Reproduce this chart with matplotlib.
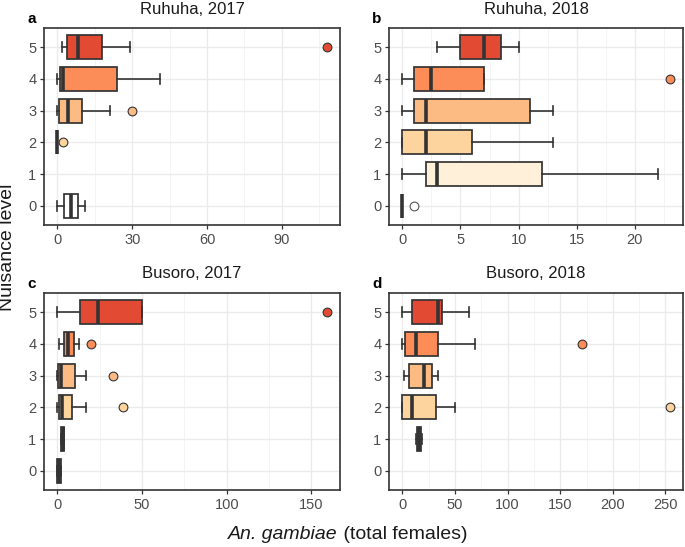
import matplotlib
matplotlib.use("Agg")
import matplotlib.pyplot as plt

plt.rcParams['font.family'] = ['Liberation Sans', 'DejaVu Sans']

# ---------------- data ----------------
levels = [0, 1, 2, 3, 4, 5]
level_colors = ["#FFFFFF", "#FEF0D9", "#FDD49E", "#FDBB84", "#FC8D59", "#E34A33"]

panel_letters = ["a", "b", "c", "d"]
panel_titles = ["Ruhuha, 2017", "Ruhuha, 2018", "Busoro, 2017", "Busoro, 2018"]

# per level: [whisker low, q1, median, q3, whisker high]; None = no data
ruhuha2017 = [[0, 2.7, 5.6, 8.4, 11], None, [0, 0, 0, 0, 0],
              [0, 0.7, 4.3, 9.9, 21], [0, 0.9, 2.3, 24, 41], [2, 4, 8.4, 17.8, 29]]
ruhuha2017_out = [[], [], [2.3], [30], [], [108]]

ruhuha2018 = [[0, 0, 0, 0, 0], [0, 2, 3, 12, 22], [0, 0, 2, 6, 13],
              [0, 1, 2, 11, 13], [0, 1, 2.5, 7, 7], [3, 5, 7, 8.5, 10]]
ruhuha2018_out = [[1], [], [], [], [23], []]

busoro2017 = [[0, 0, 1, 2, 2], [2, 2, 3, 4, 4], [0, 1, 2.5, 8.3, 17],
              [0, 0.5, 2, 10.6, 17], [1, 4, 6.3, 9.5, 12.6], [0, 13.6, 23.7, 50, 50]]
busoro2017_out = [[], [], [39], [33], [20], [159]]

busoro2018 = [None, [13, 14, 16, 18, 19], [0, 0, 9, 32, 50],
              [1.3, 6.7, 20.8, 28, 33.8], [0, 2.2, 12.8, 34, 68.6], [0, 9.6, 34, 37.7, 63]]
busoro2018_out = [[], [], [254], [], [171], []]

panel_stats = [ruhuha2017, ruhuha2018, busoro2017, busoro2018]
panel_out = [ruhuha2017_out, ruhuha2018_out, busoro2017_out, busoro2018_out]
panel_xticks = [[0, 30, 60, 90], [0, 5, 10, 15, 20],
                [0, 50, 100, 150], [0, 50, 100, 150, 200, 250]]
panel_xmax = [108, 23, 159, 254]

x_label_italic = "An. gambiae"
x_label_rest = " (total females)"
y_label = "Nuisance level"

# ---------------- figure ----------------
W, H = 685, 547
fig = plt.figure(figsize=(W / 100, H / 100), dpi=100)

# axes boxes in pixels: left, top, right, bottom
boxes = [(44, 28, 340, 225), (389, 28, 683, 225),
         (44, 293, 340, 490), (389, 293, 683, 490)]

dark = "#333333"
for i, (l, t, r, b) in enumerate(boxes):
    ax = fig.add_axes([l / W, (H - b) / H, (r - l) / W, (b - t) / H])
    stats = []
    pos = []
    cols = []
    for lev, s in zip(levels, panel_stats[i]):
        if s is None:
            continue
        stats.append(dict(whislo=s[0], q1=s[1], med=s[2], q3=s[3], whishi=s[4],
                          fliers=[]))
        pos.append(lev)
        cols.append(level_colors[lev])
    bp = ax.bxp(stats, positions=pos, widths=0.76, capwidths=0.3,
                orientation='horizontal', patch_artist=True, showfliers=False,
                boxprops=dict(edgecolor=dark, linewidth=1.25),
                whiskerprops=dict(color=dark, linewidth=1.2),
                capprops=dict(color=dark, linewidth=1.2),
                medianprops=dict(color=dark, linewidth=2.6, solid_capstyle='butt'),
                zorder=3)
    for patch, c in zip(bp['boxes'], cols):
        patch.set_facecolor(c)
    # outliers
    for lev, outs in zip(levels, panel_out[i]):
        for v in outs:
            if lev == 0:
                ax.plot([v], [lev], 'o', ms=6.3, mfc="white", mec="#555555",
                        mew=0.8, zorder=4)
            else:
                ax.plot([v], [lev], 'o', ms=6.3, mfc=level_colors[lev], mec=dark,
                        mew=0.8, zorder=4)

    xm = panel_xmax[i]
    ax.set_xlim(-0.05 * xm, 1.05 * xm)
    ax.set_ylim(-0.6, 5.6)
    ticks = panel_xticks[i]
    ax.set_xticks(ticks)
    step = ticks[1] - ticks[0]
    minor = []
    v = ticks[0] + step / 2
    while v < 1.05 * xm:
        minor.append(v)
        v += step
    ax.set_xticks(minor, minor=True)
    ax.set_yticks(levels)
    ax.set_yticklabels([str(x) for x in levels])
    ax.grid(True, which='major', color="#EBEBEB", linewidth=1.0, zorder=0)
    ax.grid(True, which='minor', axis='x', color="#F2F2F2", linewidth=0.6, zorder=0)
    ax.set_axisbelow(True)
    ax.tick_params(which='major', length=3, width=0.9, color=dark,
                   labelcolor="#4D4D4D", labelsize=10.5, pad=2.5)
    ax.tick_params(which='minor', length=0)
    for sp in ax.spines.values():
        sp.set_color(dark)
        sp.set_linewidth(1.2)

    # title and letter
    cx = (l + r) / 2
    fig.text(cx / W, (H - t + 14.5) / H, panel_titles[i], ha='center', va='baseline',
             fontsize=12, color="#1A1A1A")
    fig.text((l - 17) / W, (H - t + 5) / H, panel_letters[i], ha='left',
             va='baseline', fontsize=11, fontweight='bold', color="black")

fig.text(8 / W, (H - 247) / H, y_label, rotation=90, ha='center', va='center',
         fontsize=14, color="#1A1A1A")

# x label with italic part
t1 = fig.text(0, 0, x_label_italic, fontsize=14, style='italic', color="#1A1A1A")
t2 = fig.text(0, 0, x_label_rest, fontsize=14, color="#1A1A1A")
fig.canvas.draw()
r = fig.canvas.get_renderer()
w1 = t1.get_window_extent(r).width
w2 = t2.get_window_extent(r).width
total = w1 + w2
x0 = 348 - total / 2
yb = (H - 539) / H
t1.set_position((x0 / W, yb))
t2.set_position(((x0 + w1) / W, yb))
t1.set_va('baseline')
t2.set_va('baseline')

fig.savefig("out.png", dpi=100)
